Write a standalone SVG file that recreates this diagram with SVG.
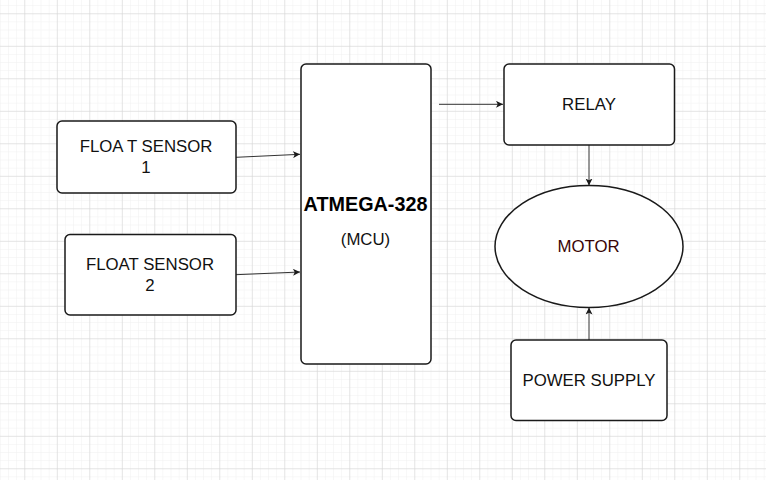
<svg xmlns="http://www.w3.org/2000/svg" width="766" height="480" viewBox="0 0 766 480">
<defs>
<pattern id="minor" x="24.3" y="13.3" width="8.125" height="8.125" patternUnits="userSpaceOnUse">
<path d="M0 0H8.125M0 0V8.125" fill="none" stroke="#f0f0f0" stroke-width="1"/>
</pattern>
<pattern id="major" x="24.3" y="13.3" width="32.5" height="32.5" patternUnits="userSpaceOnUse">
<path d="M0 0H32.5M0 0V32.5" fill="none" stroke="#d2d2d2" stroke-width="1"/>
</pattern>
<marker id="arr" viewBox="0 0 10 10" refX="10" refY="5" markerWidth="7" markerHeight="7" markerUnits="userSpaceOnUse" orient="auto">
<path d="M0 0L10 5L0 10L2.5 5Z" fill="#1a1a1a"/>
</marker>
<style>
.box{fill:#fff;stroke:#1a1a1a;stroke-width:1.5}
.lbl{font-family:"Liberation Sans",Arial,sans-serif;font-size:16.8px;fill:#111;text-anchor:middle}
.con{fill:none;stroke:#333;stroke-width:1;marker-end:url(#arr)}
</style>
</defs>
<rect width="766" height="480" fill="#fff"/>
<rect width="766" height="480" fill="url(#minor)"/>
<rect width="766" height="480" fill="url(#major)"/>
<g id="connectors">
<path class="con" d="M236 157.3L300 154.3"/>
<path class="con" d="M236 274.7L300 272"/>
<path class="con" d="M439 104.3L503 104.3"/>
<path class="con" d="M589 145L589 185.5"/>
<path class="con" d="M589 340L589 307.5"/>
</g>
<g id="float1">
<rect class="box" x="57" y="121" width="179" height="72" rx="5"/>
<text class="lbl" x="146" y="152.3">FLOA T SENSOR</text>
<text class="lbl" x="146" y="172.7">1</text>
</g>
<g id="float2">
<rect class="box" x="65" y="234.5" width="171" height="80.5" rx="5"/>
<text class="lbl" x="150" y="270">FLOAT SENSOR</text>
<text class="lbl" x="150" y="291">2</text>
</g>
<g id="mcu">
<rect class="box" x="301" y="64" width="130" height="300" rx="5"/>
<text x="365.5" y="211" font-family="Liberation Sans, Arial, sans-serif" font-size="19.8" font-weight="bold" fill="#000" text-anchor="middle">ATMEGA-328</text>
<text class="lbl" x="365.5" y="244.5">(MCU)</text>
</g>
<g id="relay">
<rect class="box" x="504" y="64" width="170.5" height="81" rx="5"/>
<text class="lbl" x="589" y="110">RELAY</text>
</g>
<g id="motor">
<ellipse class="box" cx="589" cy="246.5" rx="94" ry="61"/>
<text class="lbl" x="588.5" y="251.7" style="fill:#3a0505">MOTOR</text>
</g>
<g id="power">
<rect class="box" x="511" y="340" width="156" height="80.5" rx="5"/>
<text class="lbl" x="589" y="385.7">POWER SUPPLY</text>
</g>
</svg>
